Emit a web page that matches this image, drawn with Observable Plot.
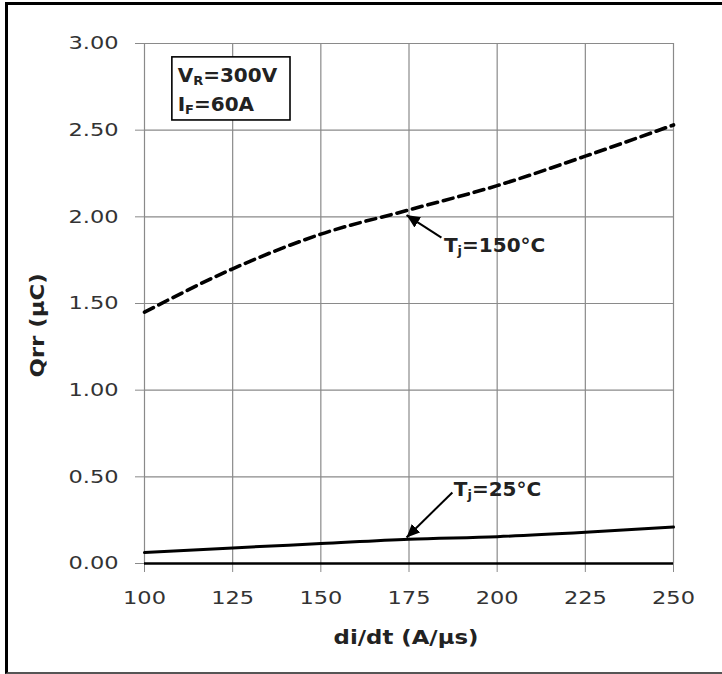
<!DOCTYPE html>
<html><head><meta charset="utf-8">
<script src="https://cdn.jsdelivr.net/npm/d3@7"></script>
<script src="https://cdn.jsdelivr.net/npm/@observablehq/plot@0.6"></script>
<style>
html,body{margin:0;padding:0;background:#fff;overflow:hidden}
#wrap{position:relative;width:722px;height:674px}
#frame{position:absolute;left:5px;top:2px;width:740px;height:667px;border-left:3px solid #000;border-top:3px solid #000;border-bottom:2px solid #555;pointer-events:none}
</style></head><body><div id="wrap"><div id="chart"></div><div id="frame"></div></div>
<script>
// ---- data ----
const didt = [100, 125, 150, 175, 200, 225, 250];
const qrr150 = [1.45, 1.70, 1.90, 2.04, 2.18, 2.35, 2.53];
const qrr25 = [0.063, 0.09, 0.115, 0.14, 0.155, 0.18, 0.21];
const xTicks = [100, 125, 150, 175, 200, 225, 250];
const yTicks = [0, 0.5, 1, 1.5, 2, 2.5, 3];
const xTitle = "di/dt (A/µs)";
const yTitle = "Qrr (µC)";
const condLines = ["V_R=300V", "I_F=60A"];
const curveLabels = ["T_j=150°C", "T_j=25°C"];

// annotation anchors (data space)
const condBox = [{x1: 107.9, x2: 141.4, y1: 2.556, y2: 2.92}];
const condText = [{x: 109.4, y: 2.812, t: condLines[0]}, {x: 109.4, y: 2.645, t: condLines[1]}];
const arrows = [
  {x1: 184.2, y1: 1.88, x2: 174.3, y2: 2.01},
  {x1: 187.3, y1: 0.41, x2: 174.3, y2: 0.15}
];
const labelPos = [{x: 184.9, y: 1.835, t: curveLabels[0]}, {x: 187.7, y: 0.427, t: curveLabels[1]}];
const yTitlePos = [{x: 69.9, y: 1.373, t: yTitle}];

const hot = didt.map((d, i) => ({x: d, y: qrr150[i]}));
const cold = didt.map((d, i) => ({x: d, y: qrr25[i]}));

const font = "DejaVu Sans, Verdana, sans-serif";

const svg = Plot.plot({
  width: 722, height: 674,
  marginLeft: 144, marginRight: 49, marginTop: 43, marginBottom: 111,
  x: {domain: [100, 250], label: null},
  y: {domain: [0, 3], label: null},
  style: {background: "transparent", overflow: "visible"},
  marks: [
    Plot.ruleX(xTicks, {stroke: "#8a8a8a", strokeWidth: 1.2}),
    Plot.ruleY(yTicks, {stroke: "#8a8a8a", strokeWidth: 1.2}),
    Plot.axisX(xTicks, {tickSize: 9, tickPadding: 19, stroke: "#8a8a8a", fill: "#333", fontSize: 18, fontFamily: font, label: null, tickFormat: d => String(d)}),
    Plot.axisY(yTicks, {tickSize: 9, tickPadding: 17, stroke: "#8a8a8a", fill: "#333", fontSize: 18, fontFamily: font, label: null, tickFormat: d3.format(".2f")}),
    Plot.ruleY([0], {stroke: "#000", strokeWidth: 2.6}),
    Plot.line(hot, {x: "x", y: "y", stroke: "#000", strokeWidth: 3.6, strokeDasharray: "10,6", curve: "monotone-x"}),
    Plot.line(cold, {x: "x", y: "y", stroke: "#000", strokeWidth: 3, curve: "monotone-x"}),
    Plot.rect(condBox, {x1: "x1", x2: "x2", y1: "y1", y2: "y2", fill: "#fff", stroke: "#000", strokeWidth: 1.6}),
    Plot.text(condText, {x: "x", y: "y", text: "t", textAnchor: "start", fontSize: 20, fontWeight: "bold", fontFamily: font, fill: "#222"}),
    Plot.link(arrows, {x1: "x1", y1: "y1", x2: "x2", y2: "y2", stroke: "#000", strokeWidth: 2, markerEnd: "arrow"}),
    Plot.text(labelPos, {x: "x", y: "y", text: "t", textAnchor: "start", fontSize: 20, fontWeight: "bold", fontFamily: font, fill: "#222"}),
    Plot.text(yTitlePos, {x: "x", y: "y", text: "t", rotate: -90, fontSize: 19, fontWeight: "bold", fontFamily: font, fill: "#222"}),
    Plot.text([xTitle], {frameAnchor: "bottom", dx: -3, dy: 80, fontSize: 19, fontWeight: "bold", fontFamily: font, fill: "#222"})
  ]
});

document.getElementById("chart").appendChild(svg);

const s = d3.select(svg);
function stretch(sel, k) {
  sel.each(function () {
    const L = this.getComputedTextLength();
    this.setAttribute("textLength", (L * k).toFixed(1));
    this.setAttribute("lengthAdjust", "spacingAndGlyphs");
  });
}
// reference text is horizontally wide
stretch(s.selectAll('g[aria-label="x-axis tick label"] text, g[aria-label="y-axis tick label"] text'), 1.25);
stretch(s.selectAll('text').filter(function () { const t = this.textContent; return t === xTitle || t === yTitle; }), 1.2);
// subscripts
s.selectAll("text").each(function () {
  const t = this.textContent;
  const m = t.match(/^(.)_(.)(.*)$/);
  if (!m) return;
  const sel = d3.select(this);
  sel.text(null);
  sel.append("tspan").text(m[1]);
  sel.append("tspan").attr("font-size", "13px").attr("dy", "3").text(m[2]);
  sel.append("tspan").attr("dy", "-3").text(m[3]);
});
// filled arrowheads
s.selectAll("marker").attr("viewBox", "-10 -5 10 10").attr("fill", "#000").attr("stroke", "none")
  .selectAll("path").attr("d", "M-10,-4.5L0,0L-10,4.5Z");
</script>
</body></html>
